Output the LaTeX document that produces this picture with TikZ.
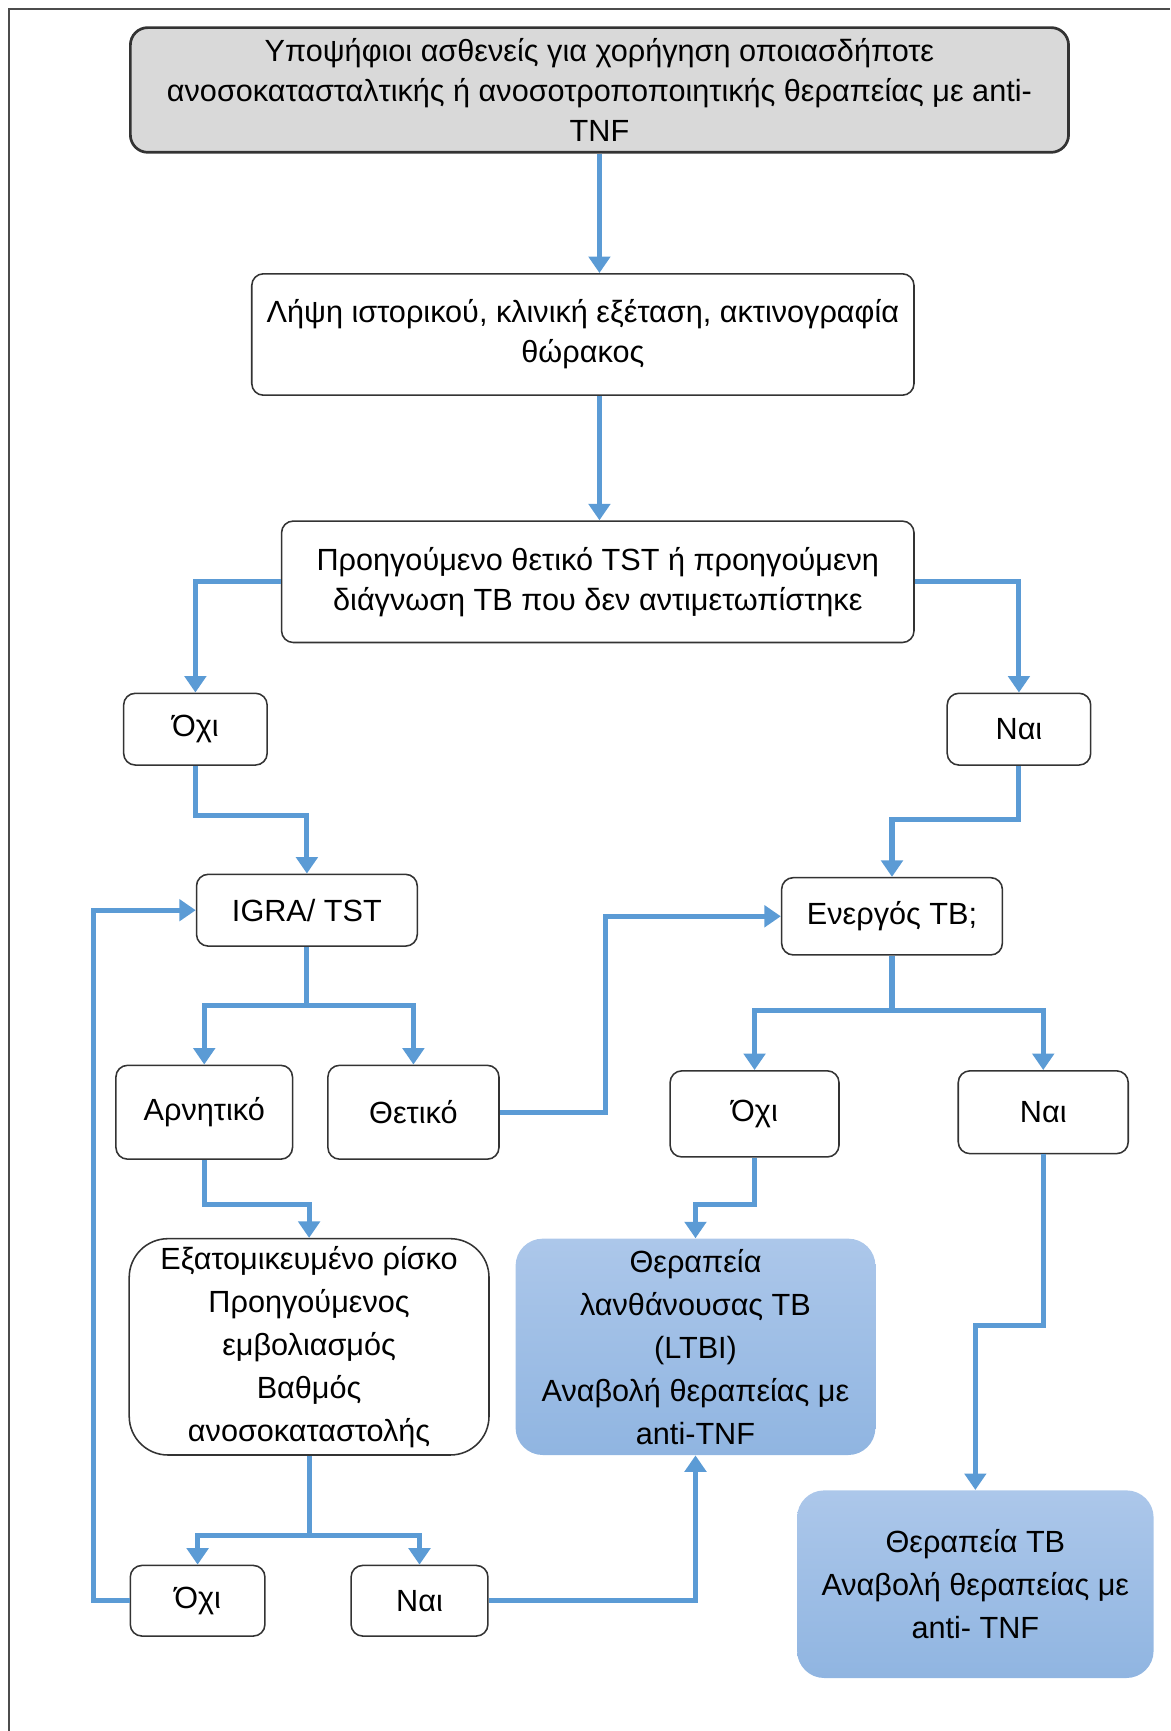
\documentclass[tikz,border=0pt]{standalone}
\usepackage{fontspec}
\setmainfont{Liberation Sans}
\usepackage{xcolor}
\usepackage{tikz}
\usetikzlibrary{shapes,arrows.meta,positioning,calc}

\definecolor{flowblue}{RGB}{91,155,213}
\definecolor{boxgray}{RGB}{217,217,217}
\definecolor{ltblue}{RGB}{172,199,234}
\definecolor{dkblue}{RGB}{144,181,225}

\tikzset{
  box/.style={draw=black!80, line width=0.8pt, rounded corners=6pt, align=center, inner sep=2pt},
  bluebox/.style={rounded corners=14pt, top color=ltblue, bottom color=dkblue, align=center, inner sep=2pt},
  tall/.style={font=\fontsize{15.8}{22.2}\selectfont},
  flow/.style={draw=flowblue, line width=2.6pt, -{Triangle[width=11pt,length=8.5pt]}},
}

\begin{document}
\begin{tikzpicture}[x=0.02cm, y=-0.02cm, font=\fontsize{15.8}{20.5}\selectfont]
\useasboundingbox (0,0) rectangle (1060,1568);
% Frame
\draw[black!70, line width=1pt] (8,1568) -- (8,8) -- (1060,8);

% Boxes
\node[box, fill=boxgray, line width=1.4pt, rounded corners=9pt, minimum width=17cm, minimum height=2.26cm] (top) at (543,81.5)
  {Υποψήφιοι ασθενείς για χορήγηση οποιασδήποτε\\ανοσοκατασταλτικής ή ανοσοτροποποιητικής θεραπείας με anti-\\TNF};
\node[box, minimum width=12cm, minimum height=2.2cm] (history) at (528,303)
  {Λήψη ιστορικού, κλινική εξέταση, ακτινογραφία\\θώρακος};
\node[box, minimum width=11.46cm, minimum height=2.2cm] (prior) at (541.5,527)
  {Προηγούμενο θετικό TST ή προηγούμενη\\διάγνωση TB που δεν αντιμετωπίστηκε};
\node[box, minimum width=2.6cm, minimum height=1.3cm] (priorno) at (177,660.5) {Όχι};
\node[box, minimum width=2.6cm, minimum height=1.3cm] (prioryes) at (923,660.5) {Ναι};
\node[box, minimum width=4cm, minimum height=1.3cm] (igra) at (278,824.5) {IGRA/ TST};
\node[box, minimum width=4cm, minimum height=1.4cm] (active) at (808,830) {Ενεργός TB;};
\node[box, minimum width=3.2cm, minimum height=1.7cm] (neg) at (185,1007.5) {Αρνητικό};
\node[box, minimum width=3.1cm, minimum height=1.7cm] (pos) at (374.5,1007.5) {Θετικό};
\node[box, minimum width=3.06cm, minimum height=1.56cm] (activeno) at (683.5,1009) {Όχι};
\node[box, minimum width=3.08cm, minimum height=1.5cm] (activeyes) at (945,1007.5) {Ναι};
\node[box, tall, rounded corners=20pt, minimum width=6.52cm, minimum height=3.92cm] (risk) at (280,1220)
  {Εξατομικευμένο ρίσκο\\Προηγούμενος\\εμβολιασμός\\Βαθμός\\ανοσοκαταστολής};
\node[bluebox, tall, minimum width=6.52cm, minimum height=3.92cm] (ltbi) at (630,1220)
  {Θεραπεία\\λανθάνουσας TB\\(LTBI)\\Αναβολή θεραπείας με\\anti-TNF};
\node[box, minimum width=2.44cm, minimum height=1.28cm] (riskno) at (179,1450) {Όχι};
\node[box, minimum width=2.48cm, minimum height=1.28cm] (riskyes) at (380,1450) {Ναι};
\node[bluebox, tall, minimum width=6.46cm, minimum height=3.4cm] (tbtreat) at (883.5,1435)
  {Θεραπεία TB\\Αναβολή θεραπείας με\\anti- TNF};

% Connectors
\draw[flow] (top.south) -- (top.south |- history.north);
\draw[flow] (top.south |- history.south) -- (top.south |- prior.north);
\draw[flow] (prior.west) -| (priorno.north);
\draw[flow] (prior.east) -| (prioryes.north);
\draw[flow] (priorno.south) -- ++(0,45) -| (igra.north);
\draw[flow] (prioryes.south) -- ++(0,49) -| (active.north);
\draw[flow] (igra.south) -- ++(0,53) -| (neg.north);
\draw[flow] (igra.south) -- ++(0,53) -| (pos.north);
\draw[flow] (pos.east) -- ++(96,0) |- (active.west);
\draw[flow] (active.south) -- ++(0,50) -| (activeno.north);
\draw[flow] (active.south) -- ++(0,50) -| (activeyes.north);
\draw[flow] (neg.south) -- ++(0,40) -| (risk.north);
\draw[flow] (activeno.south) -- ++(0,42) -| (ltbi.north);
\draw[flow] (activeyes.south) -- ++(0,155) -| (tbtreat.north);
\draw[flow] (risk.south) -- ++(0,72) -| (riskno.north);
\draw[flow] (risk.south) -- ++(0,72) -| (riskyes.north);
\draw[flow] (riskyes.east) -| (ltbi.south);
\draw[flow] (riskno.west) -- ++(-33,0) |- (igra.west);
\end{tikzpicture}
\end{document}
